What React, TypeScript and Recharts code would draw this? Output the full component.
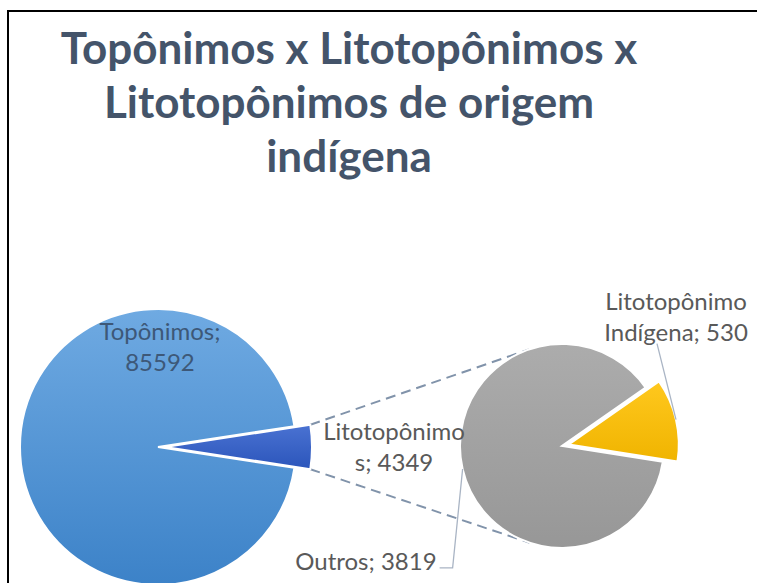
import { Cell, Customized, Pie, PieChart } from 'recharts'

const TITLE_LINES = ['Topônimos x Litotopônimos x', 'Litotopônimos de origem', 'indígena']

const MAIN_NAMES = ['Topônimos', 'Litotopônimos']
const MAIN_VALUES = [85592, 4349]

const SUB_NAMES = ['Litotopônimo Indígena', 'Outros']
const SUB_VALUES = [530, 3819]

const mainData = MAIN_NAMES.map((name, i) => ({ name, value: MAIN_VALUES[i] }))
const subData = SUB_NAMES.map((name, i) => ({ name, value: SUB_VALUES[i] }))

const FONT = 'Lato, "Open Sans", sans-serif'
const LABEL_COLOR = '#595959'
const RAD = Math.PI / 180

// geometry of the two pies
const MAIN = { cx: 158, cy: 447, r: 138 }
const WEDGE = { offset: 7, r: 147 }
const SUB = { cx: 562, cy: 446, r: 102 }
const YELLOW = { offset: 7, r: 110, mid: 13 }

const mainTotal = MAIN_VALUES.reduce((a, b) => a + b, 0)
const mainSpan = (360 * MAIN_VALUES[1]) / mainTotal
const MAIN_START = mainSpan / 2

const subTotal = SUB_VALUES.reduce((a, b) => a + b, 0)
const yellowSpan = (360 * SUB_VALUES[0]) / subTotal
const SUB_START = YELLOW.mid - yellowSpan / 2

// break label text into lines of at most `max` chars (breaks long words too)
function wrap(text: string, max: number): string[] {
  const lines: string[] = []
  let cur = ''
  for (const word of text.split(' ')) {
    let w = word
    const next = cur ? cur + ' ' + w : w
    if (next.length <= max) {
      cur = next
      continue
    }
    if (cur) lines.push(cur)
    while (w.length > max) {
      lines.push(w.slice(0, max))
      w = w.slice(max)
    }
    cur = w
  }
  if (cur) lines.push(cur)
  return lines
}

function MultiLine({ x, y, lines, anchor = 'middle', color = LABEL_COLOR }: any) {
  return (
    <text
      x={x}
      y={y}
      textAnchor={anchor}
      dominantBaseline="central"
      fill={color}
      fontSize={24}
      fontFamily={FONT}
    >
      {lines.map((l: string, i: number) => (
        <tspan key={i} x={x} dy={i === 0 ? 0 : 31}>
          {l}
        </tspan>
      ))}
    </text>
  )
}

const renderMainLabel = (p: any) => {
  if (p.index !== 0) return null
  const lines = wrap(`${p.name}; ${p.value}`, 10)
  return <MultiLine x={p.cx + 2} y={p.cy - p.outerRadius * 0.85} lines={lines} color="#3d5878" />
}

const renderWedgeLabel = (p: any) => {
  if (p.index !== 1) return null
  const lines = wrap(`${p.name}; ${p.value}`, 12)
  return <MultiLine x={p.cx + p.outerRadius + 82} y={p.cy - 17} lines={lines} />
}

const renderSubLabel = (p: any) => {
  const ex = p.cx + p.outerRadius * Math.cos(-p.midAngle * RAD)
  const ey = p.cy + p.outerRadius * Math.sin(-p.midAngle * RAD)
  if (p.index === 0) {
    const lines = wrap(`${p.name}; ${p.value}`, 13)
    return (
      <g>
        <polyline points={`${ex},${ey} ${ex - 19},${ey - 76}`} stroke="#a9b4c4" strokeWidth={1.3} fill="none" />
        <MultiLine x={ex} y={ey - 120} lines={lines} />
      </g>
    )
  }
  const ly = ey + 99
  return (
    <g>
      <polyline
        points={`${ex},${ey} ${ex - 10},${ly} ${ex - 23},${ly}`}
        stroke="#a9b4c4"
        strokeWidth={1.3}
        fill="none"
      />
      <MultiLine x={ex - 26} y={ly - 8} lines={[`${p.name}; ${p.value}`]} anchor="end" />
    </g>
  )
}

// tangent point on circle (c, r) seen from point p, side = +1/-1
function tangent(px: number, py: number, cx: number, cy: number, r: number, side: number) {
  const dx = px - cx
  const dy = py - cy
  const d = Math.hypot(dx, dy)
  const base = Math.atan2(dy, dx)
  const a = base + side * Math.acos(r / d)
  return [cx + r * Math.cos(a), cy + r * Math.sin(a)]
}

function Connectors() {
  const wx = MAIN.cx + WEDGE.offset
  const half = (mainSpan / 2) * RAD
  const top = [wx + WEDGE.r * Math.cos(half), MAIN.cy - WEDGE.r * Math.sin(half)]
  const bot = [wx + WEDGE.r * Math.cos(half), MAIN.cy + WEDGE.r * Math.sin(half)]
  const t1 = tangent(top[0], top[1], SUB.cx, SUB.cy, SUB.r, 1)
  const t2 = tangent(bot[0], bot[1], SUB.cx, SUB.cy, SUB.r, -1)
  const style = { stroke: '#8193aa', strokeWidth: 2, strokeDasharray: '10 6' }
  return (
    <g>
      <line x1={top[0]} y1={top[1]} x2={t1[0]} y2={t1[1]} {...style} />
      <line x1={bot[0]} y1={bot[1]} x2={t2[0]} y2={t2[1]} {...style} />
    </g>
  )
}

export default function App() {
  const yx = SUB.cx + YELLOW.offset * Math.cos(YELLOW.mid * RAD)
  const yy = SUB.cy - YELLOW.offset * Math.sin(YELLOW.mid * RAD)
  return (
    <div
      style={{
        position: 'fixed',
        left: 0,
        top: 0,
        width: 757,
        height: 583,
        overflow: 'hidden',
        background: '#fff',
      }}
    >
      <svg width={0} height={0} style={{ position: 'absolute' }}>
        <defs>
          <linearGradient id="gBlue" x1="0" y1="0" x2="0" y2="1">
            <stop offset="0%" stopColor="#6faae2" />
            <stop offset="100%" stopColor="#3c82c8" />
          </linearGradient>
          <linearGradient id="gDark" x1="0" y1="0" x2="0" y2="1">
            <stop offset="0%" stopColor="#4a72d2" />
            <stop offset="100%" stopColor="#2b55bb" />
          </linearGradient>
          <linearGradient id="gGray" x1="0" y1="0" x2="0" y2="1">
            <stop offset="0%" stopColor="#acacac" />
            <stop offset="100%" stopColor="#979797" />
          </linearGradient>
          <linearGradient id="gYellow" x1="0" y1="0" x2="0" y2="1">
            <stop offset="0%" stopColor="#ffc81e" />
            <stop offset="100%" stopColor="#f0b400" />
          </linearGradient>
        </defs>
      </svg>
      <div
        style={{
          position: 'absolute',
          left: 7,
          top: 10,
          width: 800,
          height: 700,
          borderTop: '2px solid #000',
          borderLeft: '2px solid #000',
        }}
      />
      <div
        style={{
          position: 'absolute',
          left: 0,
          top: 20,
          width: 698,
          textAlign: 'center',
          fontFamily: FONT,
          fontWeight: 700,
          fontSize: 44,
          lineHeight: '54px',
          color: '#44546a',
        }}
      >
        {TITLE_LINES.map((l) => (
          <div key={l}>{l}</div>
        ))}
      </div>
      <div style={{ position: 'absolute', left: 0, top: 0 }}>
        <PieChart width={757} height={583} margin={{ top: 0, right: 0, bottom: 0, left: 0 }}>
          <Customized component={<Connectors />} />
          <Pie
            data={mainData}
            dataKey="value"
            cx={MAIN.cx}
            cy={MAIN.cy}
            outerRadius={MAIN.r}
            startAngle={MAIN_START}
            endAngle={MAIN_START + 360}
            label={renderMainLabel}
            labelLine={false}
            isAnimationActive={false}
          >
            <Cell fill="url(#gBlue)" stroke="#fff" strokeWidth={2} />
            <Cell fill="transparent" stroke="none" />
          </Pie>
          <Pie
            data={mainData}
            dataKey="value"
            cx={MAIN.cx + WEDGE.offset}
            cy={MAIN.cy}
            outerRadius={WEDGE.r}
            startAngle={MAIN_START}
            endAngle={MAIN_START + 360}
            label={renderWedgeLabel}
            labelLine={false}
            isAnimationActive={false}
          >
            <Cell fill="transparent" stroke="none" />
            <Cell fill="url(#gDark)" stroke="#fff" strokeWidth={2} />
          </Pie>
          <Pie
            data={subData}
            dataKey="value"
            cx={SUB.cx}
            cy={SUB.cy}
            outerRadius={SUB.r}
            startAngle={SUB_START}
            endAngle={SUB_START + 360}
            label={(p: any) => (p.index === 1 ? renderSubLabel(p) : null)}
            labelLine={false}
            isAnimationActive={false}
          >
            <Cell fill="transparent" stroke="none" />
            <Cell fill="url(#gGray)" stroke="#fff" strokeWidth={2} />
          </Pie>
          <Pie
            data={subData}
            dataKey="value"
            cx={yx}
            cy={yy}
            outerRadius={YELLOW.r}
            startAngle={SUB_START}
            endAngle={SUB_START + 360}
            label={(p: any) => (p.index === 0 ? renderSubLabel(p) : null)}
            labelLine={false}
            isAnimationActive={false}
          >
            <Cell fill="url(#gYellow)" stroke="#fff" strokeWidth={2} />
            <Cell fill="transparent" stroke="none" />
          </Pie>
        </PieChart>
      </div>
    </div>
  )
}
